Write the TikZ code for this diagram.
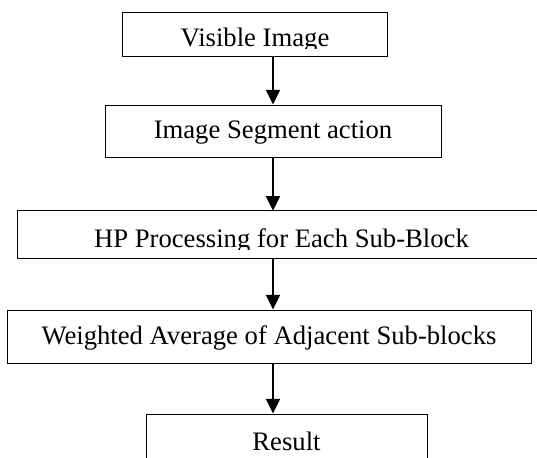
\documentclass[tikz,border=0pt]{standalone}
\usepackage{fontspec}
\setmainfont{Liberation Serif}
\usetikzlibrary{arrows.meta}
\begin{document}
\begin{tikzpicture}[x=0.75pt, y=-0.75pt,
		blk/.style={rectangle, inner sep=0pt, text depth=0pt, font=\fontsize{20}{24}\selectfont},
		frame/.style={draw, line width=0.75pt},
		flow/.style={-{Triangle[width=10.5pt,length=11pt]}, line width=1.5pt}]
	\useasboundingbox (0,0) rectangle (537,458);
	\clip (0,0) rectangle (537,458);
	\coordinate (spine) at (273,0);

	% blocks, top to bottom
	\begin{scope}
		\clip (0,0) rectangle (537,48);
		\node[blk, minimum width=198pt, minimum height=32.25pt, text height=17.25pt] (visible) at (255,34.5) {Visible Image};
	\end{scope}
	\draw[frame] (visible.south west) rectangle (visible.north east);

	\node[blk, frame, minimum width=252pt, minimum height=39pt, text height=10.5pt] (segment) at (273,131) {Image Segment action};

	\begin{scope}
		\clip (0,0) rectangle (537,249);
		\node[blk, minimum width=395.25pt, minimum height=35.25pt, text height=18.75pt] (hp) at (281.5,234.5) {HP Processing for Each Sub-Block};
	\end{scope}
	\draw[frame] (hp.south west) rectangle (hp.north east);

	\node[blk, frame, minimum width=393pt, minimum height=39.75pt, text height=11.25pt] (average) at (269,336.5) {Weighted Average of Adjacent Sub-blocks};
	\node[blk, frame, minimum width=210.75pt, minimum height=45pt, text height=9pt] (result) at (286.5,444) {Result};

	% arrows
	\draw[flow] (spine |- visible.south) -- (spine |- segment.north);
	\draw[flow] (spine |- segment.south) -- (spine |- hp.north);
	\draw[flow] (spine |- hp.south) -- (spine |- average.north);
	\draw[flow] (spine |- average.south) -- (spine |- result.north);
\end{tikzpicture}
\end{document}
